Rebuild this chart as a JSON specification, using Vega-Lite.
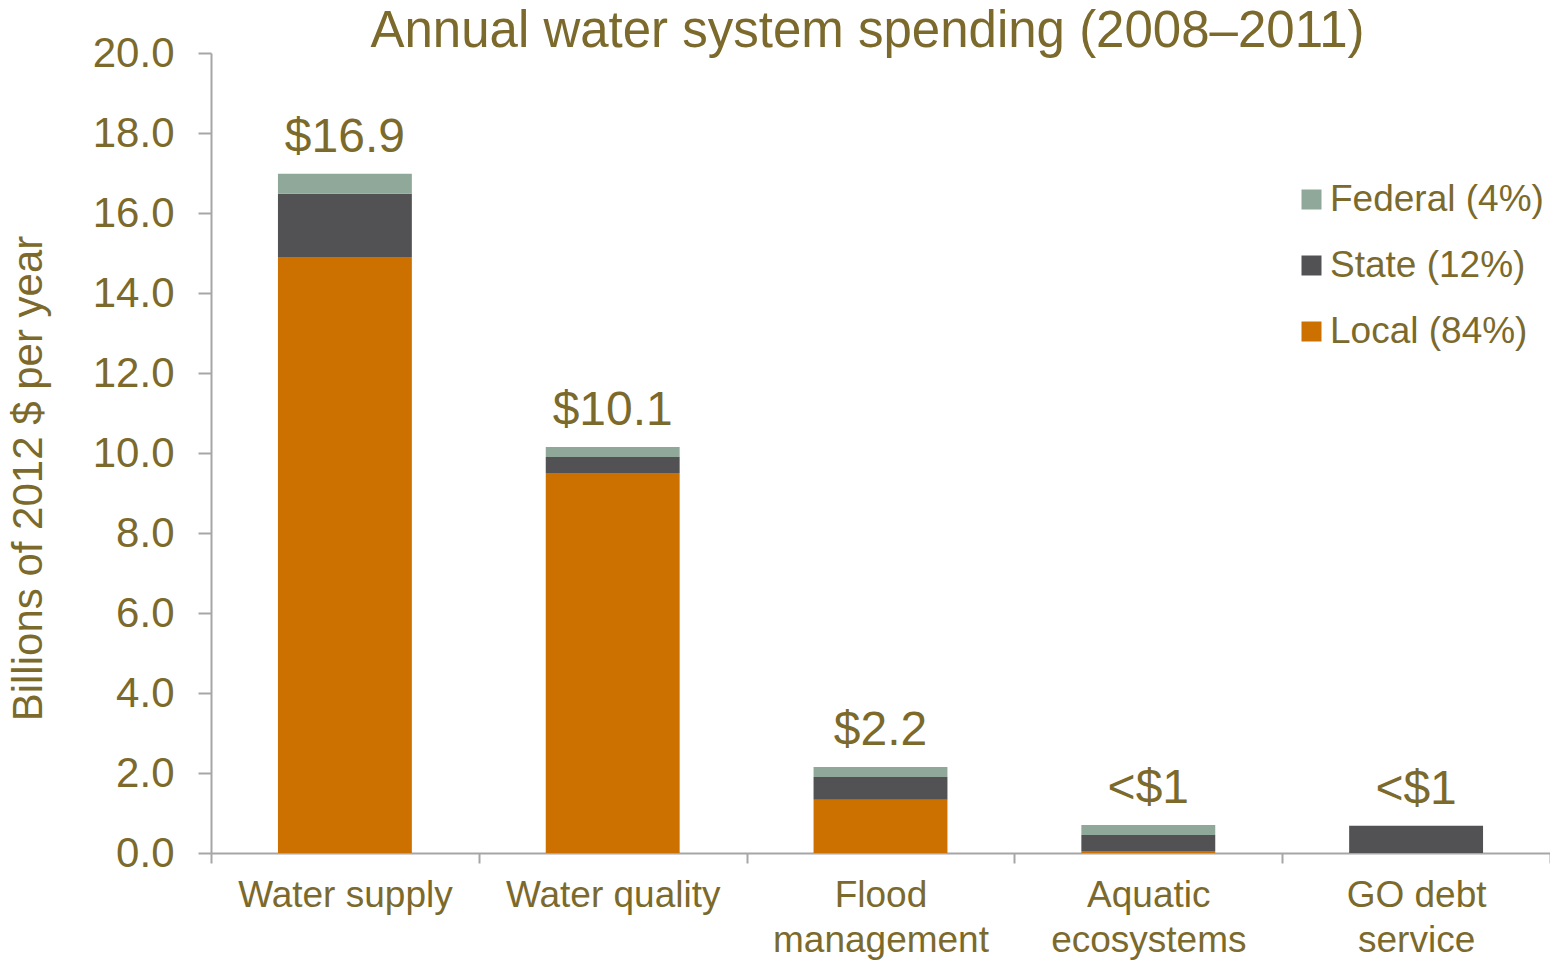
{
  "$schema": "https://vega.github.io/schema/vega-lite/v6.json",
  "width": 1339,
  "height": 800,
  "autosize": "none",
  "padding": {"left": 211, "top": 53, "right": 0, "bottom": 107},
  "background": "white",
  "title": {
    "text": "Annual water system spending (2008–2011)",
    "font": "Liberation Sans",
    "fontSize": 51,
    "fontWeight": "normal",
    "color": "#7B6A2C",
    "anchor": "middle",
    "frame": "group",
    "dx": -13,
    "offset": -26
  },
  "config": {
    "view": {"stroke": null},
    "font": "Liberation Sans"
  },
  "layer": [
    {
      "data": {
        "values": [
          {"category": "Water supply", "source": "Local (84%)", "value": 14.9},
          {"category": "Water supply", "source": "State (12%)", "value": 1.58},
          {"category": "Water supply", "source": "Federal (4%)", "value": 0.5},
          {"category": "Water quality", "source": "Local (84%)", "value": 9.5},
          {"category": "Water quality", "source": "State (12%)", "value": 0.4},
          {"category": "Water quality", "source": "Federal (4%)", "value": 0.25},
          {"category": "Flood management", "source": "Local (84%)", "value": 1.33},
          {"category": "Flood management", "source": "State (12%)", "value": 0.57},
          {"category": "Flood management", "source": "Federal (4%)", "value": 0.25},
          {"category": "Aquatic ecosystems", "source": "Local (84%)", "value": 0.05},
          {"category": "Aquatic ecosystems", "source": "State (12%)", "value": 0.4},
          {"category": "Aquatic ecosystems", "source": "Federal (4%)", "value": 0.25},
          {"category": "GO debt service", "source": "State (12%)", "value": 0.68}
        ]
      },
      "transform": [
        {"calculate": "indexof(['Local (84%)','State (12%)','Federal (4%)'], datum.source)", "as": "stackorder"}
      ],
      "mark": {"type": "bar", "width": {"band": 0.5}},
      "encoding": {
        "x": {
          "field": "category",
          "type": "nominal",
          "sort": null,
          "scale": {"paddingInner": 0, "paddingOuter": 0},
          "axis": {
            "title": null,
            "labelAngle": 0,
            "labelFontSize": 37,
            "labelColor": "#7B6A2C",
            "labelPadding": 14,
            "labelLineHeight": 45,
            "labelLimit": 0,
            "labelExpr": "datum.label == 'Flood management' ? ['Flood','management'] : datum.label == 'Aquatic ecosystems' ? ['Aquatic','ecosystems'] : datum.label == 'GO debt service' ? ['GO debt','service'] : datum.label",
            "domainColor": "#A6A6A6",
            "domainWidth": 2,
            "tickColor": "#A6A6A6",
            "tickWidth": 2,
            "tickSize": 10,
            "tickBand": "extent"
          }
        },
        "y": {
          "field": "value",
          "type": "quantitative",
          "stack": "zero",
          "scale": {"domain": [0, 20], "nice": false},
          "axis": {
            "title": "Billions of 2012 $ per year",
            "titleFontSize": 42,
            "titleFontWeight": "normal",
            "titleColor": "#7B6A2C",
            "titlePadding": 42,
            "titleY": 425,
            "values": [0, 2, 4, 6, 8, 10, 12, 14, 16, 18, 20],
            "format": ".1f",
            "labelFontSize": 42,
            "labelColor": "#7B6A2C",
            "labelPadding": 24,
            "grid": false,
            "domainColor": "#A6A6A6",
            "domainWidth": 2,
            "tickColor": "#A6A6A6",
            "tickWidth": 2,
            "tickSize": 13
          }
        },
        "color": {
          "field": "source",
          "type": "nominal",
          "scale": {
            "domain": ["Federal (4%)", "State (12%)", "Local (84%)"],
            "range": ["#8FA89A", "#525254", "#CC7000"]
          },
          "legend": {
            "title": null,
            "orient": "none",
            "legendX": 1082,
            "legendY": 128,
            "symbolType": "square",
            "symbolSize": 400,
            "symbolStrokeWidth": 0,
            "labelFontSize": 37,
            "labelColor": "#7B6A2C",
            "labelOffset": 0,
            "labelLimit": 0,
            "rowPadding": 28
          }
        },
        "order": {"field": "stackorder", "type": "quantitative"}
      }
    },
    {
      "data": {
        "values": [
          {"category": "Water supply", "total": 16.98, "label": "$16.9"},
          {"category": "Water quality", "total": 10.15, "label": "$10.1"},
          {"category": "Flood management", "total": 2.15, "label": "$2.2"},
          {"category": "Aquatic ecosystems", "total": 0.7, "label": "<$1"},
          {"category": "GO debt service", "total": 0.68, "label": "<$1"}
        ]
      },
      "mark": {"type": "text", "fontSize": 48, "color": "#7B6A2C", "baseline": "alphabetic", "dy": -22},
      "encoding": {
        "x": {"field": "category", "type": "nominal", "sort": null},
        "y": {"field": "total", "type": "quantitative"},
        "text": {"field": "label"}
      }
    }
  ]
}
